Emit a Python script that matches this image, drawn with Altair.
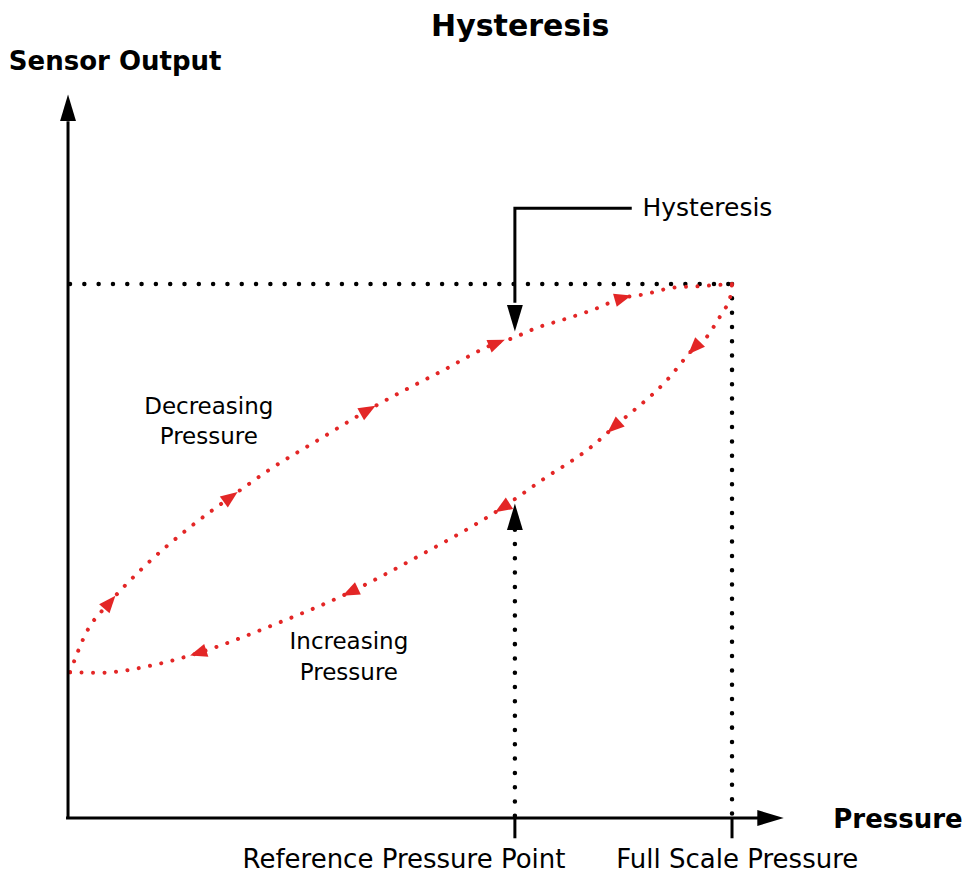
import altair as alt
import pandas as pd
import numpy as np

# ---------------- data (units: pressure 0..100 = full scale, output 0..100 = full scale) -------------
REF_P = 67.3          # reference pressure point
FULL_P = 100.0        # full scale pressure
FULL_OUT = 100.0      # full scale output

# Decreasing-pressure branch (upper curve), sorted by pressure
dec_p = [0.3, 2.7, 6.3, 11.4, 18.2, 24.5, 30.3, 37.7, 45.2, 56.6, 64.6, 66.6, 70.6,
         74.5, 78.9, 83.6, 86.9, 91.1, 95.2, 100.0]
dec_out = [27.3, 34.6, 40.4, 47.0, 54.3, 60.1, 65.2, 70.8, 76.4, 83.9, 88.95, 89.7, 91.8,
           93.3, 95.1, 97.4, 98.1, 99.3, 99.6, 100.0]

# Increasing-pressure branch (lower curve), sorted by pressure
inc_p = [0.3, 4.7, 13.1, 19.6, 31.6, 42.5, 52.6, 65.4, 71.4, 78.8, 82.2, 90.2, 94.3,
         96.2, 97.6, 98.6, 99.7, 100.0]
inc_out = [27.3, 27.2, 28.7, 30.9, 36.5, 42.3, 48.9, 58.1, 63.3, 69.5, 73.2, 82.0, 88.0,
           90.1, 92.7, 94.8, 97.4, 100.0]

# arrow markers along the branches (pressure positions)
dec_arrow_p = [6.3, 24.5, 45.2, 64.6, 83.6]
inc_arrow_p = [19.6, 42.5, 65.4, 82.2, 94.3]

# texts
bold_texts = ["Hysteresis", "Sensor Output", "Pressure"]
bold_x = [68.1, 7.1, 125.0]
bold_y = [148.1, 141.6, -0.4]
bold_size = [30, 26, 26]

reg_texts = ["Hysteresis", "Reference Pressure Point", "Full Scale Pressure",
             "Decreasing", "Pressure", "Increasing", "Pressure"]
reg_x = [96.3, 50.6, 100.8, 21.2, 21.2, 42.3, 42.3]
reg_y = [114.2, -7.9, -7.9, 77.0, 71.3, 33.0, 27.2]
reg_size = [25, 26, 26, 23, 23, 23, 23]

# ---------------- layout -------------
W, H = 958, 866
X_DOM = [-9.04, 135.24]
Y_DOM = [-10.49, 151.69]
SX = W / (X_DOM[1] - X_DOM[0])
SY = H / (Y_DOM[1] - Y_DOM[0])
RED = "#e32626"

xs = alt.Scale(domain=X_DOM, nice=False, zero=False)
ys = alt.Scale(domain=Y_DOM, nice=False, zero=False)


def X(f="x"):
    return alt.X(f"{f}:Q", scale=xs, axis=None)


def Y(f="y"):
    return alt.Y(f"{f}:Q", scale=ys, axis=None)


# solid black lines: axes, ticks, hysteresis callout
solid = pd.DataFrame({
    "g": ["yax", "yax", "xax", "xax", "t1", "t1", "t2", "t2", "c", "c", "c"],
    "o": [0, 1, 0, 1, 0, 1, 0, 1, 0, 1, 2],
    "x": [0, 0, -0.3, 104.0, REF_P, REF_P, FULL_P, FULL_P, 84.9, REF_P, REF_P],
    "y": [0, 130.5, 0, 0, 0, -3.8, 0, -3.8, 114.2, 114.2, 96.5],
})
solid_layer = alt.Chart(solid).mark_line(color="black", strokeWidth=3).encode(
    x=X(), y=Y(), detail="g:N", order="o:Q")

# dotted black guide lines
dots = pd.DataFrame({
    "g": ["h", "h", "v1", "v1", "v2", "v2"],
    "o": [0, 1, 0, 1, 0, 1],
    "x": [0.3, FULL_P, FULL_P, FULL_P, REF_P, REF_P],
    "y": [FULL_OUT, FULL_OUT, FULL_OUT, 0, 54.0, 0],
})
dot_layer = alt.Chart(dots).mark_line(color="black", strokeWidth=4.5, strokeCap="round",
                                      strokeDash=[0.01, 14.3]).encode(
    x=X(), y=Y(), detail="g:N", order="o:Q")

# red hysteresis branches
curves = pd.DataFrame({
    "g": ["dec"] * len(dec_p) + ["inc"] * len(inc_p),
    "x": dec_p + inc_p,
    "y": dec_out + inc_out,
})
curves["o"] = curves["x"]
curve_layer = alt.Chart(curves).mark_line(color=RED, strokeWidth=4, strokeCap="round",
                                          strokeDash=[0.01, 11.5], interpolate="monotone").encode(
    x=X(), y=Y(), detail="g:N", order="o:Q")


def arrows_on(px_list, cp, co, direction):
    cp = np.array(cp)
    co = np.array(co)
    rows = []
    for p in px_list:
        y = float(np.interp(p, cp, co))
        d = 1.2
        y1 = float(np.interp(p - d, cp, co))
        y2 = float(np.interp(p + d, cp, co))
        dx = 2 * d * SX * direction
        dy = -(y2 - y1) * SY * direction
        ang = np.degrees(np.arctan2(dx, -dy)) % 360
        rows.append({"x": p, "y": y, "a": float(ang)})
    return rows


red_arrows = pd.DataFrame(arrows_on(dec_arrow_p, dec_p, dec_out, 1) +
                          arrows_on(inc_arrow_p, inc_p, inc_out, -1))
ARROW = "M0,-1L0.8,1L-0.8,1Z"
red_arrow_layer = alt.Chart(red_arrows).mark_point(
    shape=ARROW, filled=True, opacity=1, color=RED, strokeWidth=0).encode(
    x=X(), y=Y(), angle=alt.Angle("a:Q", scale=None), size=alt.value(290))

# black arrow heads (axes, callout, reference point)
black_arrows = pd.DataFrame({
    "x": [0, 105.8, REF_P, REF_P],
    "y": [133.0, 0, 93.6, 56.4],
    "a": [0, 90, 180, 0],
})
black_arrow_layer = alt.Chart(black_arrows).mark_point(
    shape="M0,-1L0.6,1L-0.6,1Z", filled=True, opacity=1, color="black", strokeWidth=0).encode(
    x=X(), y=Y(), angle=alt.Angle("a:Q", scale=None), size=alt.value(700))

FONT = "DejaVu Sans"
bold_df = pd.DataFrame({"t": bold_texts, "x": bold_x, "y": bold_y, "s": bold_size})
bold_layer = alt.Chart(bold_df).mark_text(font=FONT, fontWeight="bold", color="black",
                                          align="center", baseline="middle").encode(
    x=X(), y=Y(), text="t:N", size=alt.Size("s:Q", scale=None))

reg_df = pd.DataFrame({"t": reg_texts, "x": reg_x, "y": reg_y, "s": reg_size})
reg_layer = alt.Chart(reg_df).mark_text(font=FONT, color="black",
                                        align="center", baseline="middle").encode(
    x=X(), y=Y(), text="t:N", size=alt.Size("s:Q", scale=None))

chart = alt.layer(
    dot_layer, curve_layer, solid_layer, red_arrow_layer, black_arrow_layer, bold_layer, reg_layer
).properties(
    width=W, height=H, padding=0, autosize=alt.AutoSizeParams(type="none"), background="white"
).configure_view(stroke=None)

chart.save("out.html", embed_options={"renderer": "svg", "actions": False})
